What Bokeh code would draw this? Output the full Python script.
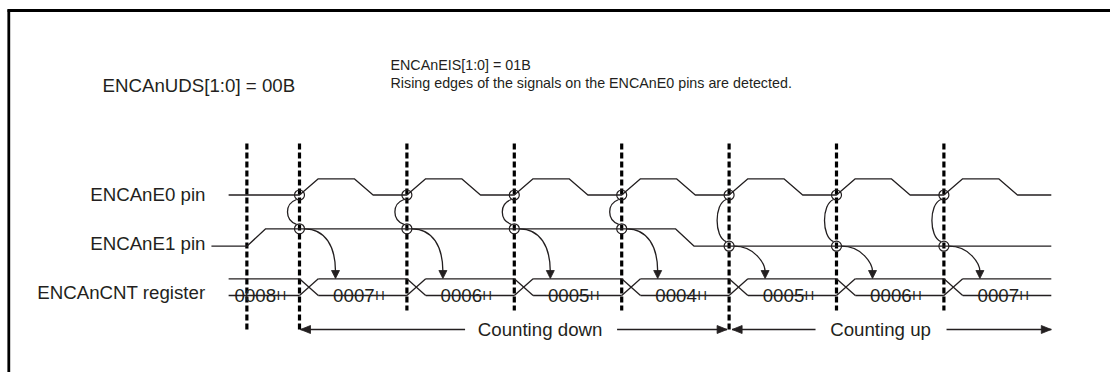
from bokeh.plotting import figure
from bokeh.models import Range1d
from bokeh.embed import file_html
from bokeh.resources import INLINE
from bokeh.core.properties import value

# ---------------- data (time unit = one encoder period, t=0 first counted edge) ----------------
E0_RISE = [0, 1, 2, 3, 4, 5, 6]
E0_FALL = [0.51, 1.51, 2.51, 3.51, 4.51, 5.51, 6.51]
E1_RISE = [-0.49]
E1_FALL = [3.50]
E0_INIT = 0
E1_INIT = 0
E0_START, E1_START, REG_START, T_END = -0.66, -0.82, -0.66, 7.0
CNT_TIMES = [0, 1, 2, 3, 4, 5, 6]
CNT_VALUES = ["0008", "0007", "0006", "0005", "0004", "0005", "0006", "0007"]
PHASE_NAMES = ["Counting down", "Counting up"]
PHASE_START = [0, 4]
PHASE_END = [4, 7.0]
ROW_LABELS = ["ENCAnE0 pin", "ENCAnE1 pin", "ENCAnCNT register"]
NOTE_LEFT = "ENCAnUDS[1:0] = 00B"
NOTE_RIGHT = ["ENCAnEIS[1:0] = 01B",
              "Rising edges of the signals on the ENCAnE0 pins are detected."]

# ---------------- layout / style ----------------
PAGE_W, PAGE_H = 1110, 372
W, H = PAGE_W, PAGE_H
T0_PX, PERIOD_PX = 299.0, 107.4
E0_LOW, E0_HIGH = 194.5, 178.3
E1_LOW, E1_HIGH = 245.7, 228.3
REG_TOP, REG_BOT = 278.3, 295.0
SLOPE = 0.175
XTR = 0.175
DASH_TOP = 143
DASH_BOT_LONG, DASH_BOT_SHORT = 331, 310
ARROW_Y = 329
PHASE_LABEL_FRAC = [0.56, 0.47]
PHASE_GAP = [(75, 77), (65, 66)]
INK = "#231f20"
FONT = value("Liberation Sans")
FS = "18.7px"
FS_NOTE = "14.3px"
FS_SUB = "13px"
LW = 1.3


def dx(px):
    return px / PERIOD_PX


p = figure(width=W, height=H,
           x_range=Range1d((0 - T0_PX) / PERIOD_PX, (PAGE_W - T0_PX) / PERIOD_PX),
           y_range=Range1d(PAGE_H, 0),
           output_backend="svg", toolbar_location=None, min_border=0,
           x_axis_location=None, y_axis_location=None)
p.extra_x_ranges = {"px": Range1d(0, PAGE_W)}
p.grid.visible = False
p.outline_line_color = None
p.background_fill_color = "white"
p.border_fill_color = "white"

# border (top and left)
p.line([7, PAGE_W], [10, 10], x_range_name="px", line_color="black", line_width=2.8)
p.line([8.3, 8.3], [9, PAGE_H], x_range_name="px", line_color="black", line_width=2.8)


def wave(t0, t1, init, rises, falls, low, high):
    edges = sorted([(t, 1) for t in rises] + [(t, 0) for t in falls])
    lvl = init
    xs, ys = [t0], [high if lvl else low]
    for t, new in edges:
        xs += [t, t + SLOPE]
        ys += [high if lvl else low, high if new else low]
        lvl = new
    xs.append(t1)
    ys.append(high if lvl else low)
    return xs, ys


def level_at(t, init, rises, falls):
    edges = sorted([(e, 1) for e in rises] + [(e, 0) for e in falls])
    lvl = init
    for e, new in edges:
        if e <= t:
            lvl = new
    return lvl


# dashed markers
mark_t = E1_RISE + E0_RISE
long_set = set(E1_RISE) | set(PHASE_START)
for t in mark_t:
    yb = DASH_BOT_LONG if t in long_set else DASH_BOT_SHORT
    p.segment(x0=[t], y0=[DASH_TOP], x1=[t], y1=[yb], line_color="black",
              line_width=3.2, line_dash="6 3")

# signals
x0s, y0s = wave(E0_START, T_END, E0_INIT, E0_RISE, E0_FALL, E0_LOW, E0_HIGH)
p.line(x0s, y0s, line_color=INK, line_width=LW)
x1s, y1s = wave(E1_START, T_END, E1_INIT, E1_RISE, E1_FALL, E1_LOW, E1_HIGH)
p.line(x1s, y1s, line_color=INK, line_width=LW)

# register bus
hx0, hx1, hy = [], [], []
bounds = [REG_START] + CNT_TIMES + [T_END]
for i in range(len(CNT_VALUES)):
    a = bounds[i] if i == 0 else bounds[i] + XTR
    b = bounds[i + 1]
    for yy in (REG_TOP, REG_BOT):
        hx0.append(a); hx1.append(b); hy.append(yy)
p.segment(x0=hx0, y0=hy, x1=hx1, y1=hy, line_color=INK, line_width=LW)
n = len(CNT_TIMES)
p.segment(x0=CNT_TIMES + CNT_TIMES, y0=[REG_TOP] * n + [REG_BOT] * n,
          x1=[t + XTR for t in CNT_TIMES] * 2, y1=[REG_BOT] * n + [REG_TOP] * n,
          line_color=INK, line_width=LW)

# register values
digit_w = 4 * 0.556 * 18.7
sub_w = 0.722 * 13
tx, hxs = [], []
for i, v in enumerate(CNT_VALUES):
    a = bounds[i] if i == 0 else bounds[i] + XTR
    b = bounds[i + 1]
    c = (a + b) / 2 - dx(4)
    left = c - dx((digit_w + sub_w) / 2)
    tx.append(left)
    hxs.append(left + dx(digit_w + 0.5))
p.text(x=tx, y=[REG_BOT] * len(tx), text=CNT_VALUES, text_font=FONT, text_font_size=FS,
       text_color=INK, text_align="left", text_baseline="alphabetic")
p.text(x=hxs, y=[REG_BOT] * len(tx), text=["H"] * len(tx), text_font=FONT,
       text_font_size=FS_SUB, text_color=INK, text_align="left", text_baseline="alphabetic")

# detection circles, links and arrows
for t in E0_RISE:
    e1y = E1_HIGH if level_at(t, E1_INIT, E1_RISE, E1_FALL) else E1_LOW
    p.scatter([t, t], [E0_LOW, e1y], marker="circle", size=10, fill_color=None,
              line_color=INK, line_width=1.2)
    p.bezier(x0=[t - dx(3)], y0=[E0_LOW + 4.5], x1=[t - dx(3)], y1=[e1y - 4.5],
             cx0=[t - dx(15)], cy0=[E0_LOW + 9], cx1=[t - dx(15)], cy1=[e1y - 9],
             line_color=INK, line_width=LW)
    tip = REG_TOP - 0.3
    p.bezier(x0=[t + dx(5)], y0=[e1y], x1=[t + dx(36)], y1=[tip - 7],
             cx0=[t + dx(26)], cy0=[e1y], cx1=[t + dx(36)], cy1=[e1y + 18],
             line_color=INK, line_width=LW)
    p.patches(xs=[[t + dx(36), t + dx(32), t + dx(40)]], ys=[[tip, tip - 8, tip - 8]],
              fill_color=INK, line_color=INK, line_width=0.8)

# phase arrows
for i, name in enumerate(PHASE_NAMES):
    a = PHASE_START[i] + (dx(1) if i == 0 else dx(3))
    b = PHASE_END[i] - (dx(2) if i == 0 else 0)
    c = PHASE_START[i] + PHASE_LABEL_FRAC[i] * (PHASE_END[i] - PHASE_START[i])
    gl, gr = PHASE_GAP[i]
    p.segment(x0=[a, c + dx(gr)], y0=[ARROW_Y] * 2, x1=[c - dx(gl), b], y1=[ARROW_Y] * 2,
              line_color=INK, line_width=LW)
    p.patches(xs=[[a, a + dx(10), a + dx(10)], [b, b - dx(10), b - dx(10)]],
              ys=[[ARROW_Y, ARROW_Y - 4, ARROW_Y + 4], [ARROW_Y, ARROW_Y - 4, ARROW_Y + 4]],
              fill_color=INK, line_color=INK, line_width=0.8)
    p.text(x=[c], y=[ARROW_Y], text=[name], text_font=FONT, text_font_size=FS,
           text_color=INK, text_align="center", text_baseline="middle")

# row labels
p.text(x=[205] * 3, y=[194.3, 243.2, 292.2], text=ROW_LABELS, x_range_name="px",
       text_font=FONT, text_font_size=FS, text_color=INK, text_align="right",
       text_baseline="alphabetic")

# notes
p.text(x=[102], y=[85], text=[NOTE_LEFT], x_range_name="px", text_font=FONT,
       text_font_size=FS, text_color=INK, text_align="left", text_baseline="alphabetic")
p.text(x=[390, 390], y=[64, 82.5], text=NOTE_RIGHT, x_range_name="px", text_font=FONT,
       text_font_size=FS_NOTE, text_color=INK, text_align="left", text_baseline="alphabetic")

open("out.html", "w").write(file_html(p, INLINE))
